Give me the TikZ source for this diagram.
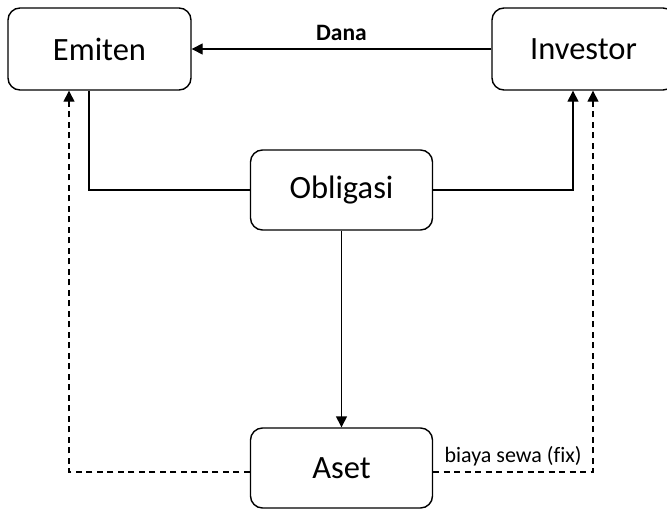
\documentclass[tikz,border=0pt]{standalone}
\usepackage{fontspec}
\setmainfont[Ligatures=NoCommon]{Carlito}
\usetikzlibrary{arrows.meta}

\begin{document}
\begin{tikzpicture}[x=1pt, y=1pt, line width=1.4pt,
    >={Triangle[length=11pt,width=11pt]},
    pihak/.style={draw, rounded corners=12pt, minimum width=183pt, minimum height=82pt,
      font=\fontsize{32.5}{39}\selectfont},
    jaminan/.style={dash pattern=on 6pt off 4.5pt},
    ket/.style={inner sep=0pt, font=\fontsize{22}{26}\selectfont}]
        \useasboundingbox (0,0) rectangle (667,-509);
        \node[pihak] (emiten) at (99.5,-49) {Emiten};
        \node[pihak] (investor) at (583.5,-49) {Investor};
        \node[pihak, minimum width=182pt, minimum height=80pt] (obligasi) at (341.5,-190) {Obligasi};
        \node[pihak, minimum width=182pt, minimum height=80pt] (aset) at (341.5,-468) {Aset};
        \draw[->] (investor.west) -- (emiten.east)
          node[pos=0.5, above=8pt, ket, font=\bfseries\fontsize{23.5}{28}\selectfont] (dana) {Dana};
        \draw ([xshift=-10.5pt]emiten.south) |- (obligasi.west);
        \draw[->] (obligasi.east) -| ([xshift=-10.5pt]investor.south);
        \draw[->] (obligasi.south) -- (aset.north);
        \draw[->, jaminan] ([yshift=-4pt]aset.west) -| ([xshift=-30.5pt]emiten.south);
        \draw[->, jaminan] ([yshift=-4pt]aset.east) -| ([xshift=9.5pt]investor.south)
          node[pos=0.25, above=5pt, ket] (sewa) {biaya sewa (fix)};
    \end{tikzpicture}
\end{document}
